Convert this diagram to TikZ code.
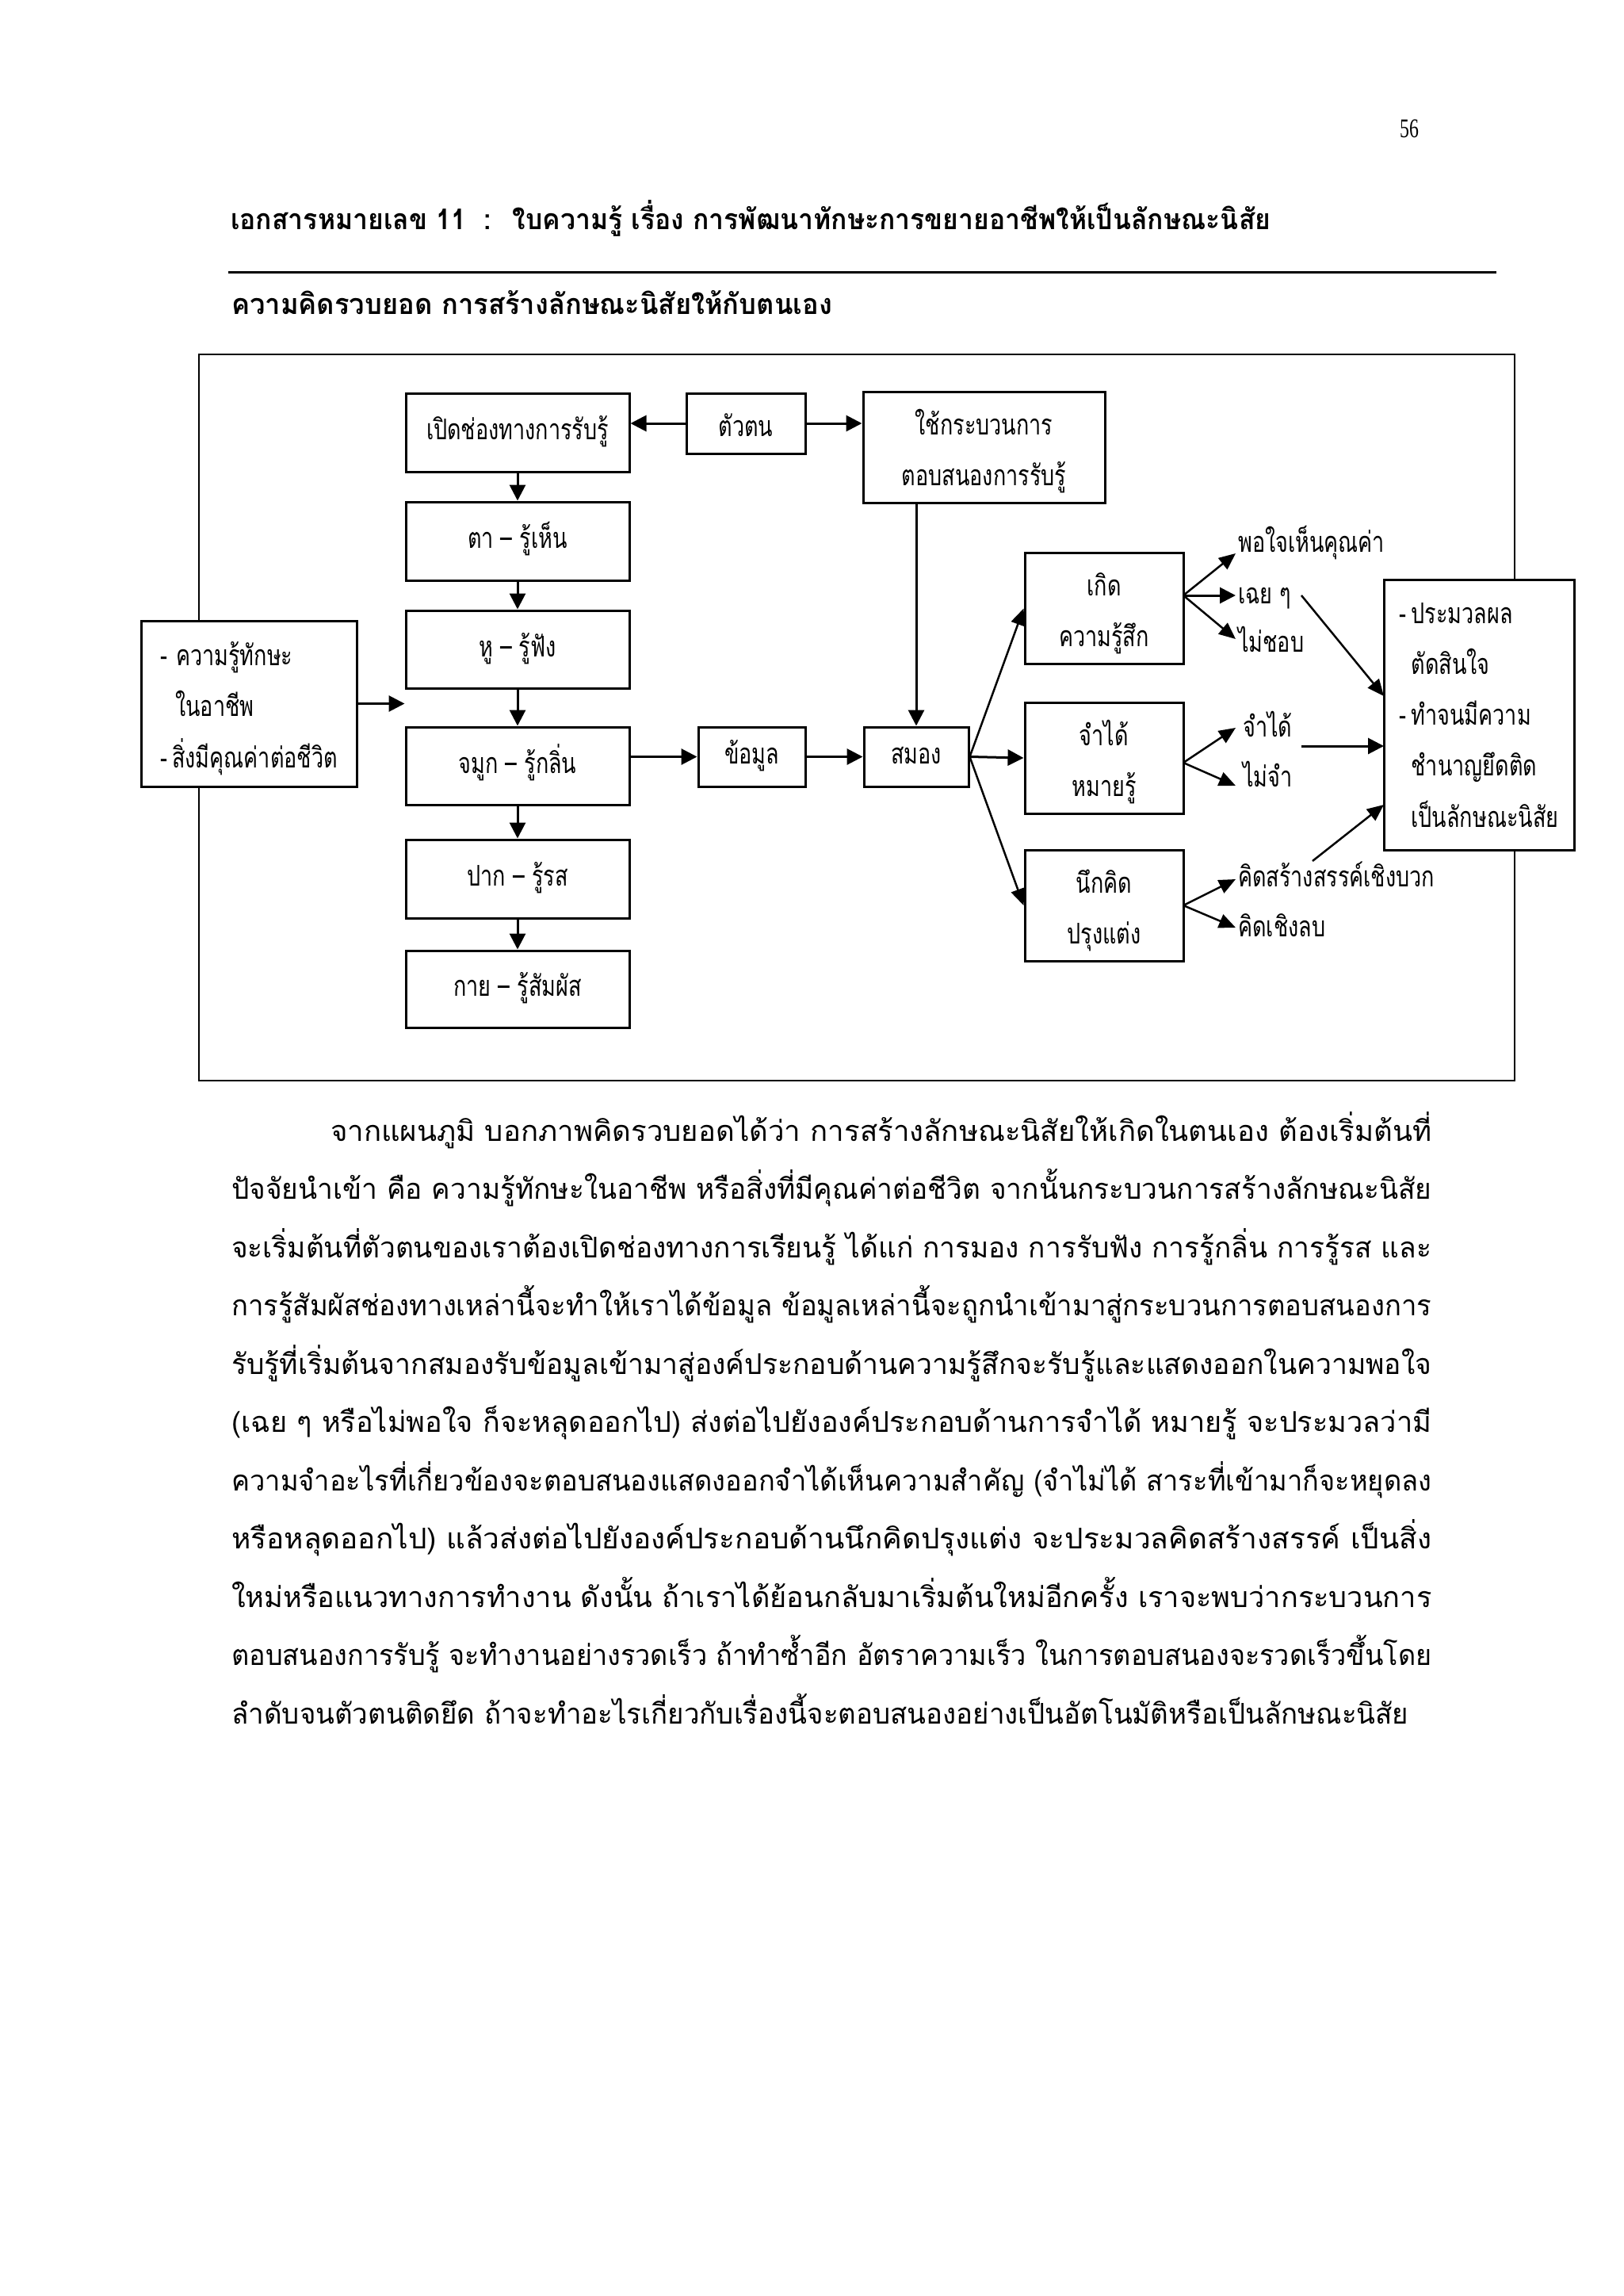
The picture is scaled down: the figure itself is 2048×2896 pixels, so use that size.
\documentclass[tikz,border=0pt]{standalone}
\usepackage{fontspec}
\usepackage{graphicx}
\usetikzlibrary{arrows.meta}
\newfontfamily\thai[Script=Thai,FakeStretch=0.75]{Loma}
\newfontfamily\numfont[FakeStretch=0.7]{Liberation Serif}
\newcommand\ts{\rule[-22pt]{0pt}{62pt}}
\newcommand\tsf{\rule[-22pt]{0pt}{76pt}}
\newcommand\tsr{\rule[-22pt]{0pt}{70pt}}
\begin{document}
\begin{tikzpicture}[x=1pt,y=-1pt,
  every node/.style={font=\thai\fontsize{36}{64}\selectfont, inner sep=0pt},
  box/.style={draw, line width=3pt, fill=white, align=center},
  lbl/.style={anchor=west},
  arr/.style={line width=3pt, -{Triangle[length=20pt,width=20pt]}},
  tarr/.style={line width=2.5pt, -{Triangle[length=21pt,width=18pt]}},
  bodyline/.style={anchor=west},
  head/.style={anchor=west, font=\thai\bfseries\fontsize{36}{40}\selectfont}
]
\fill[white] (0,0) rectangle (2048,2896);
\useasboundingbox (0,0) rectangle (2048,2896);

% header
\node[anchor=west, font=\numfont\fontsize{34}{40}\selectfont] (pg) at (1766,162) {56};
\node[head] (title) at (291,280) {\ts\resizebox{1312pt}{\height}{เอกสารหมายเลข 11 \ : \ ใบความรู้ เรื่อง การพัฒนาทักษะการขยายอาชีพให้เป็นลักษณะนิสัย}};
\draw[line width=3pt] (288,343) -- (1888,343);
\node[head] (sub) at (292,387) {\ts\resizebox{758pt}{\height}{ความคิดรวบยอด การสร้างลักษณะนิสัยให้กับตนเอง}};

% frame
\draw[line width=2.5pt] (251,447) rectangle (1911,1363);

% boxes
\node[box, minimum width=282pt, minimum height=99pt] (open) at (653,545.5) {\ts เปิดช่องทางการรับรู้};
\node[box, minimum width=150pt, minimum height=76pt] (self) at (941,534) {\tsf ตัวตน};
\node[box, minimum width=305pt, minimum height=137pt] (use) at (1241.5,564.5) {\tsf ใช้กระบวนการ\\\ts ตอบสนองการรับรู้};
\node[box, minimum width=282pt, minimum height=99pt] (ta) at (653,682.5) {\ts ตา – รู้เห็น};
\node[box, minimum width=282pt, minimum height=98pt] (hu) at (653,819) {\ts หู – รู้ฟัง};
\node[box, minimum width=282pt, minimum height=98pt] (jamuk) at (653,966) {\ts จมูก – รู้กลิ่น};
\node[box, minimum width=282pt, minimum height=99pt] (pak) at (653,1108.5) {\ts ปาก – รู้รส};
\node[box, minimum width=282pt, minimum height=97pt] (kai) at (653,1247.5) {\ts กาย – รู้สัมผัส};
\node[box, minimum width=272pt, minimum height=209pt, align=left, font=\thai\fontsize{36}{64.5}\selectfont] (input) at (314,887.5)
  {\tsf\makebox[20pt][l]{-}ความรู้ทักษะ\\\ts\hspace*{19pt}ในอาชีพ\\\ts\makebox[15pt][l]{-}สิ่งมีคุณค่าต่อชีวิต};
\node[box, minimum width=135pt, minimum height=75pt] (khomun) at (948.5,954.5) {\ts ข้อมูล};
\node[box, minimum width=132pt, minimum height=75pt] (samong) at (1156,954.5) {\ts สมอง};
\node[box, minimum width=200pt, minimum height=139pt] (kerd) at (1393,767.5) {\tsf เกิด\\\ts ความรู้สึก};
\node[box, minimum width=200pt, minimum height=140pt] (jam) at (1393,956) {\tsf จำได้\\\ts หมายรู้};
\node[box, minimum width=200pt, minimum height=140pt] (nuek) at (1393,1142) {\tsf นึกคิด\\\ts ปรุงแต่ง};
\node[box, minimum width=240pt, minimum height=341pt, align=left, font=\thai\fontsize{36}{64.25}\selectfont] (result) at (1866,901.5)
  {\tsr\makebox[15pt][l]{-}ประมวลผล\\\ts\hspace*{15pt}ตัดสินใจ\\\ts\makebox[15pt][l]{-}ทำจนมีความ\\\ts\hspace*{15pt}ชำนาญยึดติด\\\ts\hspace*{15pt}เป็นลักษณะนิสัย};

% labels
\node[lbl] (lPor) at (1562,687) {\ts พอใจเห็นคุณค่า};
\node[lbl] (lChoei) at (1562,752) {\ts เฉย ๆ};
\node[lbl] (lMai) at (1562,813) {\ts ไม่ชอบ};
\node[lbl] (lJam) at (1568,920) {\ts จำได้};
\node[lbl] (lMaiJam) at (1568,983) {\ts ไม่จำ};
\node[lbl] (lPos) at (1562,1109) {\ts คิดสร้างสรรค์เชิงบวก};
\node[lbl] (lNeg) at (1562,1172) {\ts คิดเชิงลบ};

% coordinates
\coordinate (kf) at (1493,751);
\coordinate (jf) at (1493,962);
\coordinate (nf) at (1493,1142);
\coordinate (tPor) at (1559,698);
\coordinate (tChoei) at (1559,751);
\coordinate (tMai) at (1559,806);
\coordinate (tJam) at (1559,918);
\coordinate (tMaiJam) at (1559,991);
\coordinate (tPos) at (1559,1109);
\coordinate (tNeg) at (1559,1170);
\coordinate (sChoei) at (1642,751);
\coordinate (eChoei) at (1746,878);
\coordinate (sJam) at (1642,941);
\coordinate (eJam) at (1746,941);
\coordinate (sPos) at (1656,1086);
\coordinate (ePos) at (1746,1015);

% connectors
\draw[arr] (self.west) -- (self.west -| open.east);
\draw[arr] (self.east) -- (self.east -| use.west);
\draw[arr] (open.south) -- (ta.north);
\draw[arr] (ta.south) -- (hu.north);
\draw[arr] (hu.south) -- (jamuk.north);
\draw[arr] (jamuk.south) -- (pak.north);
\draw[arr] (pak.south) -- (kai.north);
\draw[arr] (input.east) -- (input.east -| open.west);
\draw[arr] (jamuk.east |- khomun.west) -- (khomun.west);
\draw[arr] (khomun.east) -- (samong.west);
\draw[arr] (use.south -| samong.north) -- (samong.north);
\draw[tarr] (samong.east) -- (kerd.west);
\draw[arr] (samong.east) -- (jam.west);
\draw[tarr] (samong.east) -- (nuek.west);
\draw[tarr] (kf) -- (tPor);
\draw[arr] (kf) -- (tChoei);
\draw[tarr] (kf) -- (tMai);
\draw[tarr] (jf) -- (tJam);
\draw[tarr] (jf) -- (tMaiJam);
\draw[tarr] (nf) -- (tPos);
\draw[tarr] (nf) -- (tNeg);
\draw[tarr] (sChoei) -- (eChoei);
\draw[arr] (sJam) -- (eJam);
\draw[tarr] (sPos) -- (ePos);

% body text
\node[bodyline] (b1) at (417,1430) {\ts\resizebox{1389pt}{\height}{จากแผนภูมิ บอกภาพคิดรวบยอดได้ว่า การสร้างลักษณะนิสัยให้เกิดในตนเอง ต้องเริ่มต้นที่}};
\node[bodyline] (b2) at (292,1503.5) {\ts\resizebox{1514pt}{\height}{ปัจจัยนำเข้า คือ ความรู้ทักษะในอาชีพ หรือสิ่งที่มีคุณค่าต่อชีวิต จากนั้นกระบวนการสร้างลักษณะนิสัย}};
\node[bodyline] (b3) at (292,1577) {\ts\resizebox{1514pt}{\height}{จะเริ่มต้นที่ตัวตนของเราต้องเปิดช่องทางการเรียนรู้ ได้แก่ การมอง การรับฟัง การรู้กลิ่น การรู้รส และ}};
\node[bodyline] (b4) at (292,1650.5) {\ts\resizebox{1514pt}{\height}{การรู้สัมผัสช่องทางเหล่านี้จะทำให้เราได้ข้อมูล ข้อมูลเหล่านี้จะถูกนำเข้ามาสู่กระบวนการตอบสนองการ}};
\node[bodyline] (b5) at (292,1724) {\ts\resizebox{1514pt}{\height}{รับรู้ที่เริ่มต้นจากสมองรับข้อมูลเข้ามาสู่องค์ประกอบด้านความรู้สึกจะรับรู้และแสดงออกในความพอใจ}};
\node[bodyline] (b6) at (292,1797.5) {\ts\resizebox{1514pt}{\height}{(เฉย ๆ หรือไม่พอใจ ก็จะหลุดออกไป) ส่งต่อไปยังองค์ประกอบด้านการจำได้ หมายรู้ จะประมวลว่ามี}};
\node[bodyline] (b7) at (292,1871) {\ts\resizebox{1514pt}{\height}{ความจำอะไรที่เกี่ยวข้องจะตอบสนองแสดงออกจำได้เห็นความสำคัญ (จำไม่ได้ สาระที่เข้ามาก็จะหยุดลง}};
\node[bodyline] (b8) at (292,1944.5) {\ts\resizebox{1514pt}{\height}{หรือหลุดออกไป) แล้วส่งต่อไปยังองค์ประกอบด้านนึกคิดปรุงแต่ง จะประมวลคิดสร้างสรรค์ เป็นสิ่ง}};
\node[bodyline] (b9) at (292,2018) {\ts\resizebox{1514pt}{\height}{ใหม่หรือแนวทางการทำงาน ดังนั้น ถ้าเราได้ย้อนกลับมาเริ่มต้นใหม่อีกครั้ง เราจะพบว่ากระบวนการ}};
\node[bodyline] (b10) at (292,2091.5) {\ts\resizebox{1514pt}{\height}{ตอบสนองการรับรู้ จะทำงานอย่างรวดเร็ว ถ้าทำซ้ำอีก อัตราความเร็ว ในการตอบสนองจะรวดเร็วขึ้นโดย}};
\node[bodyline] (b11) at (292,2165) {\ts\resizebox{1485pt}{\height}{ลำดับจนตัวตนติดยึด ถ้าจะทำอะไรเกี่ยวกับเรื่องนี้จะตอบสนองอย่างเป็นอัตโนมัติหรือเป็นลักษณะนิสัย}};
\end{tikzpicture}
\end{document}
